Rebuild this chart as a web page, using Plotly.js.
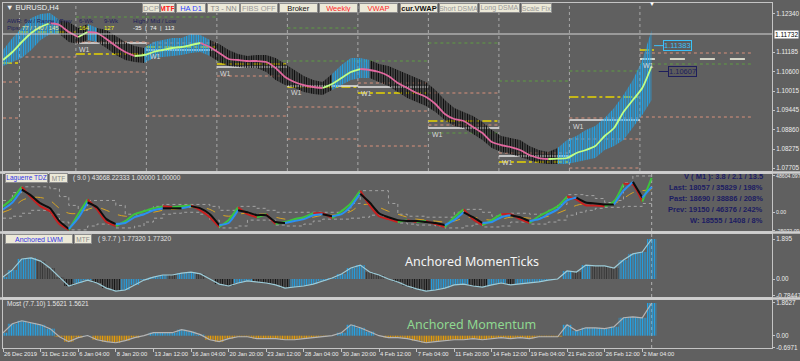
<!DOCTYPE html>
<html><head><meta charset="utf-8">
<script src="https://cdn.plot.ly/plotly-3.0.1.min.js"></script>
<style>html,body{margin:0;padding:0;background:#606060;}#chart{width:800px;height:361px;}</style>
</head><body><div id="chart"></div>
<script>
// ---------------- DATA ----------------
const barIdx = [0,4,8,12,16,20,24,28,32,36,40,44,48,52,56,60,64,68,72,76,80,84,88,92,96,100,104,108,112,116,120,124,128,132,136,140,144,148,152,156,160,164,168,172,176,180,184,188,192,196,200,204,208,212,216,220,224,228,232,236,240,244,248,252,256,260,264,268,272,276];
const tickIdx = [0,16,32,48,64,80,96,112,128,144,160,176,192,208,224,240,256,272];
const tickText = ['26 Dec 2019','31 Dec 12:00','6 Jan 04:00','8 Jan 20:00','13 Jan 12:00','16 Jan 04:00','20 Jan 20:00','23 Jan 12:00','28 Jan 04:00','30 Jan 20:00','4 Feb 12:00','7 Feb 04:00','11 Feb 20:00','14 Feb 12:00','19 Feb 04:00','21 Feb 20:00','26 Feb 12:00','2 Mar 04:00'];

// main panel: smoothed MA and candle high/low envelope (EURUSD H4)
const maLine = [1.10952,1.11192,1.11492,1.11762,1.11942,1.12062,1.12002,1.11792,1.11642,1.11792,
1.11762,1.11582,1.11372,1.11192,1.11072,1.11102,1.11192,1.11252,1.11312,1.11342,
1.11402,1.11462,1.11342,1.11162,1.10982,1.10952,1.10922,1.10922,1.10892,1.10712,
1.10442,1.10292,1.10202,1.10142,1.10112,1.10232,1.10412,1.10592,1.10682,1.10652,
1.10592,1.10472,1.10262,1.10112,1.09962,1.09842,1.09632,1.09332,1.09182,1.09122,
1.08942,1.08762,1.08492,1.08402,1.08342,1.08252,1.08102,1.08012,1.07982,1.07992,
1.08012,1.08162,1.08252,1.08372,1.08672,1.08912,1.09392,1.09752,1.10112,1.10772];
const priceHigh = [1.11252,1.11612,1.11912,1.12212,1.12332,1.12362,1.12152,1.12092,1.11912,1.12032,
1.11912,1.11852,1.11672,1.11492,1.11372,1.11312,1.11492,1.11552,1.11612,1.11612,
1.11732,1.11702,1.11552,1.11432,1.11252,1.11132,1.11072,1.11102,1.11102,1.11012,
1.10832,1.10652,1.10472,1.10352,1.10292,1.10532,1.10802,1.11012,1.11012,1.10952,
1.10832,1.10772,1.10652,1.10532,1.10412,1.10292,1.10052,1.09752,1.09512,1.09392,
1.09272,1.09092,1.08852,1.08672,1.08612,1.08552,1.08372,1.08252,1.08192,1.08312,
1.08552,1.08672,1.08852,1.08972,1.09212,1.09512,1.09902,1.10352,1.10952,1.11852];
const priceLow = [1.10772,1.10892,1.11012,1.11252,1.11552,1.11732,1.11732,1.11492,1.11432,1.11552,
1.11492,1.11312,1.11102,1.10952,1.10892,1.10862,1.11012,1.11042,1.11072,1.11102,
1.11162,1.11192,1.11072,1.10892,1.10772,1.10742,1.10712,1.10712,1.10592,1.10352,
1.10202,1.10112,1.09992,1.09932,1.09902,1.10052,1.10202,1.10352,1.10412,1.10412,
1.10292,1.10172,1.09992,1.09812,1.09692,1.09572,1.09392,1.09152,1.08972,1.08912,
1.08732,1.08552,1.08312,1.08192,1.08132,1.08042,1.07952,1.07862,1.07832,1.07832,
1.07832,1.07892,1.07952,1.08012,1.08252,1.08372,1.08552,1.08912,1.09302,1.09752];
const priceTicks = [1.12340,1.11185,1.10600,1.10015,1.09445,1.08860,1.08275,1.07705];
const lastPrice = 1.11732;
const tagPrice = [1.11383, 1.10607];

// weekly pivot levels
const weekStart = [0,7,31,61,91,121,151,181,211,241,271];
const weekEnd   = [7,31,61,91,121,151,181,211,241,271,319];
const lvlWeek  = [0,0,0, 1,1,1, 2,2,2,2,2, 3,3,3,3,3, 4,4,4,4,4, 5,5,5,5,5,5, 6,6,6,6,6,6, 7,7,7,7,7,7, 8,8,8,8, 9,9,9,9,9,9, 10,10,10,10,10];
const lvlPrice = [1.10862,1.10292,1.09212, 1.11042,1.09842,1.11792,
 1.11462,1.11492,1.11132,1.10592,1.12242, 1.11342,1.11252,1.11462,1.09272,1.12242,
 1.10832,1.10742,1.10472,1.10922,1.09272, 1.11912,1.10922,1.10142,1.10172,1.09542,1.08582,
 1.10142,1.10262,1.09962,1.09422,1.08372,1.10922, 1.11462,1.09962,1.09122,1.09002,1.08912,1.08762,
 1.10322,1.08162,1.08072,1.07892, 1.10622,1.09842,1.09152,1.09212,1.08582,1.07712,
 1.11252,1.11162,1.10982,1.10832,1.09242];
const lvlKind  = ['y','s','s', 's','s','y', 'w','s','y','s','g', 'y','w','s','s','g',
 'y','w','s','g','s', 'g','g','y','w','s','s', 'w','s','y','s','s','g', 'g','s','y','s','w','g',
 'g','s','w','y', 'g','y','w','s','s','s', 'y','s','W','g','s'];

// Laguerre TDZ panel
const lagFast = [7900,18400,34100,19700,7900,1300,-15800,-23600,-2600,17100,
3900,-13100,-18400,-11800,-2600,1300,5300,7900,6600,7900,
9200,2600,-6600,-19700,-10500,6600,-2600,-6600,-2600,-15800,
-13100,-9200,-6600,-1300,-1300,-7900,1300,11800,28900,9200,
-5300,-9200,-13100,-10500,-13100,-11800,-15800,-19700,-6600,3900,
-9200,-17100,-10500,-2600,-2600,-9200,-14400,-5300,1300,7900,
21000,17100,9200,9200,7900,14400,38100,36800,14400,46000];
const lagMain = [3900,13100,30200,22300,11800,5300,-11800,-22300,-7900,13100,
6600,-9200,-15800,-14400,-6600,-2600,2600,5300,5300,5300,
7900,5300,-2600,-17100,-14400,2600,0,-3900,-3900,-13100,
-14400,-11800,-9200,-3900,-2600,-5300,-2600,7900,24900,13100,
-1300,-6600,-10500,-11800,-11800,-13100,-14400,-17100,-10500,0,
-6600,-14400,-13100,-6600,-3900,-6600,-11800,-9200,-2600,3900,
15800,19700,13100,11800,10500,10500,28900,40700,19700,34100];
const lagSignal = [0,5300,15800,19700,19700,15800,5300,-1300,-1300,3900,
6600,2600,-2600,-5300,-5300,-2600,0,2600,3900,5300,
6600,6600,3900,-2600,-5300,-2600,-1300,-2600,-2600,-6600,
-9200,-9200,-7900,-6600,-3900,-3900,-2600,1300,9200,10500,
6600,1300,-2600,-6600,-9200,-10500,-11800,-13100,-11800,-7900,
-6600,-9200,-10500,-9200,-6600,-6600,-7900,-7900,-5300,-1300,
3900,9200,11800,11800,11800,11800,18400,26300,28900,30200];
const lagUpper = [15800,26300,34100,34100,34100,31500,21000,9200,2600,15800,
15800,15800,9200,-2600,-2600,2600,7900,10500,10500,10500,
10500,10500,7900,2600,2600,7900,7900,5300,2600,0,
0,0,0,0,0,0,2600,11800,28900,28900,
28900,11800,-2600,-5300,-5300,-6600,-6600,-6600,0,3900,
3900,0,-5300,-2600,-1300,-1300,-2600,-2600,2600,10500,
23600,23600,22300,18400,13100,15800,39400,48600,48600,48600];
const lagLower = [-7900,-5300,-1300,2600,2600,-2600,-13100,-23600,-23600,-18400,
-15800,-15800,-21000,-21000,-18400,-13100,-7900,-2600,-1300,0,
0,-2600,-10500,-21000,-21000,-18400,-10500,-10500,-10500,-17100,
-18400,-18400,-15800,-11800,-9200,-9200,-9200,-7900,-6600,-3900,
-5300,-10500,-14400,-15800,-17100,-17100,-18400,-21000,-21000,-18400,
-15800,-19700,-19700,-18400,-13100,-13100,-15800,-15800,-13100,-10500,
-3900,0,2600,5300,6600,6600,7900,7900,11800,13100];

// Anchored MomenTicks panel
const momTicks = [0.09,0.43,0.95,1.00,0.85,0.52,0.09,-0.33,-0.19,-0.05,
-0.19,-0.43,-0.57,-0.52,-0.28,-0.05,0.09,0.19,0.19,0.28,
0.33,0.24,0.00,-0.24,-0.33,-0.19,-0.09,-0.14,-0.19,-0.28,
-0.43,-0.38,-0.33,-0.24,-0.09,0.05,0.24,0.52,0.66,0.33,
0.19,0.00,-0.14,-0.33,-0.47,-0.57,-0.52,-0.43,-0.28,-0.24,
-0.33,-0.38,-0.28,-0.19,-0.28,-0.24,-0.19,-0.14,-0.05,0.00,
0.38,0.33,0.66,0.62,0.62,0.52,0.90,1.19,1.28,1.895];

// Anchored Momentum panel
const momentum = [0.17,0.68,0.85,0.73,0.62,0.40,-0.06,-0.34,-0.11,0.01,
-0.23,-0.34,-0.40,-0.28,-0.11,0.00,0.17,0.17,0.17,0.34,
0.23,0.06,-0.23,-0.34,-0.17,-0.06,-0.06,-0.17,-0.17,-0.17,
-0.23,-0.23,-0.17,-0.11,-0.06,0.00,0.17,0.62,0.45,0.23,
0.00,-0.11,-0.11,-0.17,-0.28,-0.40,-0.34,-0.28,-0.23,-0.23,
-0.17,-0.23,-0.17,-0.11,-0.17,-0.11,-0.17,-0.06,-0.06,-0.06,
0.62,0.28,0.45,0.45,0.40,0.51,1.02,1.07,1.02,1.86];

// ---------------- DRAWING ----------------
const F = 'Liberation Sans, Arial, sans-serif';
const traces = [];

function dirSegments(xs, ys, upC, dnC, w, xa, ya, shape) {
  const out = []; let start = 0;
  const dir = i => ys[i+1] > ys[i];
  for (let i = 0; i < xs.length - 1; i++) {
    if (i === xs.length - 2 || dir(i+1) !== dir(i)) {
      out.push({type:'scatter', mode:'lines', x: xs.slice(start, i+2), y: ys.slice(start, i+2),
        line:{color: dir(i) ? upC : dnC, width: w, shape: shape || 'linear', smoothing: 0.6},
        xaxis: xa, yaxis: ya, hoverinfo:'skip'});
      start = i + 1;
    }
  }
  return out;
}

// candle envelope (main) – hatched fill between low and high, coloured by trend
const candleColors = maLine.map((v,i) => (i === 0 ? maLine[1] > v : v > maLine[i-1]) ? '#1ea6ee' : '#080808');
(function(){
  const n = barIdx.length; let a = 0;
  for (let i = 1; i <= n; i++) {
    if (i === n || candleColors[i] !== candleColors[a]) {
      const b = Math.min(i, n - 1) + 1;
      const col = candleColors[a];
      traces.push({type:'scatter', mode:'lines', x: barIdx.slice(a, b), y: priceLow.slice(a, b), line:{width:0, color:col, shape:'linear'}, xaxis:'x2', yaxis:'y', hoverinfo:'skip'});
      traces.push({type:'scatter', mode:'lines', x: barIdx.slice(a, b), y: priceHigh.slice(a, b), line:{width:0, color:col, shape:'linear'}, fill:'tonexty',
        fillcolor:'rgba(0,0,0,0)', fillpattern:{shape:'|', fgcolor:col, bgcolor:'rgba(0,0,0,0)', size:2.4, solidity:0.55}, xaxis:'x2', yaxis:'y', hoverinfo:'skip'});
      a = i;
    }
  }
})();
traces.push(...dirSegments(barIdx, maLine, '#bfff86', '#e2689f', 1.8, 'x2', 'y', 'spline'));

// Laguerre
traces.push({type:'scatter', mode:'lines', x: barIdx, y: lagUpper, line:{color:'#a4a4a4', width:1, dash:'dot', shape:'hv'}, xaxis:'x3', yaxis:'y2', hoverinfo:'skip'});
traces.push({type:'scatter', mode:'lines', x: barIdx, y: lagLower, line:{color:'#a4a4a4', width:1, dash:'dot', shape:'hv'}, xaxis:'x3', yaxis:'y2', hoverinfo:'skip'});
traces.push({type:'scatter', mode:'lines', x: barIdx, y: lagSignal, line:{color:'#d8a422', width:1, dash:'dash', shape:'spline'}, xaxis:'x3', yaxis:'y2', hoverinfo:'skip'});
traces.push(...dirSegments(barIdx, lagFast, '#3cc43c', '#c82020', 2, 'x3', 'y2', 'spline'));
traces.push(...dirSegments(barIdx, lagMain, '#2b90f2', '#0e0e0e', 2, 'x3', 'y2', 'spline'));

// MomenTicks
const mtColors = momTicks.map((v,i) => (i > 0 && v > momTicks[i-1]) || i === 0 ? '#1ea2ea' : (v >= 0 ? '#353535' : '#101010'));
traces.push({type:'bar', x: barIdx, y: momTicks, width: 4, xaxis:'x4', yaxis:'y3',
  marker:{color: mtColors, line:{width:0}, pattern:{shape:'|', size:2.4, solidity:0.5}}, hoverinfo:'skip'});
traces.push({type:'scatter', mode:'lines', x: barIdx, y: momTicks, line:{color:'#9ccbd8', width:1.2}, xaxis:'x4', yaxis:'y3', hoverinfo:'skip'});

// Momentum
const mColors = momentum.map(v => v >= 0 ? '#1fa8f0' : '#f2a200');
traces.push({type:'bar', x: barIdx, y: momentum, width: 4, xaxis:'x', yaxis:'y4',
  marker:{color: mColors, line:{width:0}, pattern:{shape:'|', size:2.4, solidity:0.55}}, hoverinfo:'skip'});
traces.push({type:'scatter', mode:'lines', x: barIdx, y: momentum, line:{color:'#b4b4b4', width:1.2}, xaxis:'x', yaxis:'y4', hoverinfo:'skip'});

// ---------------- LAYOUT ----------------
const pa = px => (px - 3) / 769;
const pb = py => (348 - py) / 345;
const shapes = [];
const annotations = [];

// separators between panels
[172.5, 232.5, 298.5].forEach(py => shapes.push({type:'rect', xref:'paper', yref:'paper', x0:-0.01, x1:1.05, y0:pb(py+1.2), y1:pb(py-1.2), fillcolor:'#cfcfcf', line:{width:0}, layer:'above'}));

// week separators
weekStart.slice(1).forEach(w => shapes.push({type:'line', xref:'x2', yref:'y domain', x0:w, x1:w, y0:0, y1:1, line:{color:'#a8a8a8', width:1, dash:'dot'}, layer:'below'}));
// current bar markers in sub-windows
const lastBar = barIdx[barIdx.length-1];
[['x3','y2'],['x4','y3'],['x','y4']].forEach(([xa,ya]) => shapes.push({type:'line', xref:xa, yref:ya+' domain', x0:lastBar, x1:lastBar, y0:0, y1:1, line:{color:'#b0b0b0', width:1, dash:'dot'}, layer:'below'}));

// levels
const lvlStyle = {
  s:{color:'#d8907a', width:1, dash:'dot'},
  g:{color:'#5e9c42', width:1, dash:'dot'},
  y:{color:'#e6d400', width:1.5, dash:'dashdot'},
  w:{color:'#e6e6e6', width:1.5, dash:'solid'},
  W:{color:'#d6d6c8', width:2, dash:'longdash'}
};
lvlPrice.forEach((p,k) => {
  const w = lvlWeek[k], kind = lvlKind[k];
  let x1 = weekEnd[w];
  if (kind === 'y' && w === weekStart.length - 1) x1 = weekStart[w] + 6;
  shapes.push({type:'line', xref:'x2', yref:'y', x0:weekStart[w], x1:x1, y0:p, y1:p, line:lvlStyle[kind], layer:'below'});
  if (kind === 'w' || kind === 'W') {
    annotations.push({xref:'x2', yref:'y', x:weekStart[w] + 0.6, y:p, text:'W1', showarrow:false, xanchor:'left', yanchor:'top', yshift:-1, font:{family:F, size:7, color:'#d8d8d8'}});
  }
});
// last price line
shapes.push({type:'line', xref:'paper', yref:'y', x0:0, x1:1, y0:lastPrice, y1:lastPrice, line:{color:'#d4d4d4', width:1}, layer:'above'});
annotations.push({xref:'paper', yref:'y', x:1.002, y:lastPrice, text:lastPrice.toFixed(5), showarrow:false, xanchor:'left', yanchor:'middle', bgcolor:'#ffffff', borderpad:0, font:{family:F, size:6.5, color:'#000000'}});

// price tags
const tagColor = ['#3cc0f8', '#1e1e5c'];
tagPrice.forEach((p,k) => {
  const x0 = lastBar + 1 + k*2;
  shapes.push({type:'line', xref:'x2', yref:'y', x0:x0, x1:x0+4, y0:p, y1:p, line:{color:tagColor[k], width:1}});
  annotations.push({xref:'x2', yref:'y', x:x0+4, y:p, text:p.toFixed(5), showarrow:false, xanchor:'left', yanchor:'middle', bgcolor:'#5c5c5c', bordercolor:tagColor[k], borderwidth:1, borderpad:0, font:{family:F, size:7.5, color:tagColor[k]}});
});

function txt(px, py, text, color, size, extra) {
  annotations.push(Object.assign({xref:'paper', yref:'paper', x:pa(px), y:pb(py), text:text, showarrow:false, xanchor:'left', yanchor:'middle', font:{family:F, size:size, color:color}}, extra || {}));
}
function box(x0, x1, py, text, color, bold, size) {
  annotations.push({xref:'paper', yref:'paper', x:pa((x0+x1)/2), y:pb(py), text: bold ? '<b>'+text+'</b>' : text, showarrow:false, xanchor:'center', yanchor:'middle', width:x1-x0-2, height:8, bgcolor:'#ece9d8', bordercolor:'#8e8e8e', borderwidth:1, borderpad:0, font:{family:F, size:size || 7.5, color:color}});
}

// header
txt(4, 7, '\u25BC EURUSD,H4', '#f2f2f2', 7.5);
txt(5, 21, 'AWR: 6w / Range / Prev', '#1e1e5c', 6);
txt(77, 21, '6-Wk', '#1e1e5c', 6);
txt(102, 21, '9-Wk', '#1e1e5c', 6);
txt(131, 21, 'High / Mid / Low', '#1e1e5c', 6);
txt(5, 28, 'Pips:', '#1e1e5c', 6);
txt(20, 28, '77 / 140 / 145', '#e6ea9a', 6);
txt(77, 28, '164', '#f2f01e', 6);
txt(102, 28, '127', '#f2f01e', 6);
txt(131, 28, '-35  |  74  |  113', '#f2f2f2', 6);
txt(652, 4, '\u25BC', '#ffffff', 6, {xanchor:'center'});

// buttons
box(142,160,8.5,'DCP','#9a9a9a');
box(160,175,8.5,'MTF','#ff2020',true);
box(176,206,8.5,'HA D1','#2c44ff');
box(207,240,8.5,'T3 - NN','#8a8a8a');
box(240,278,8.5,'FIBS OFF','#9a9a9a');
box(279,318,8.5,'Broker','#111111');
box(319,358,8.5,'Weekly','#ff2a2a');
box(359,398,8.5,'VWAP','#ff2a2a');
box(400,438,8.5,'cur.VWAP','#111111',true);
box(439,478,8.5,'Short DSMA','#9a9a9a',false,7);
box(479,520,8.5,'Long DSMA','#9a9a9a',false,7);
box(521,552,8.5,'Scale Fix','#9a9a9a',false,7);

// sub-window labels
box(5,48,177.5,'Laguerre TDZ','#3434e6',false,6.5);
box(49,68,177.5,'MTF','#8a8a8a',false,6.5);
txt(71, 177.5, '( 9.0 ) 43668.22333 1.00000 1.00000', '#e4e4e4', 6.5);
box(5,73,239,'Anchored LWM','#3434e6',false,7);
box(74,92,239,'MTF','#8a8a8a',false,6.5);
txt(96, 239, '( 9.7.7 ) 1.77320 1.77320', '#e4e4e4', 6.5);
txt(5, 303.5, 'Most (7.7.10) 1.5621 1.5621', '#e4e4e4', 6.5);

// info block in Laguerre window
['V ( M1 ): 3.8 / 2.1 / 13.5','Last: 18057 / 35829 / 198%','Past: 18690 / 38886 / 208%','Prev: 19150 / 46376 / 242%','W: 18555 / 1408 / 8%']
  .forEach((t,k) => txt(765, 176.5 + k*11, '<b>'+t+'</b>', '#1c1c62', 7.5, {xanchor:'right'}));

// big captions
txt(403, 261, 'Anchored MomenTicks', '#f4f4f4', 12.5, {font:{family:'Noto Sans, Open Sans, sans-serif', size:12.5, color:'#f4f4f4'}});
txt(405, 324.5, 'Anchored Momentum', '#8fd890', 12.5, {font:{family:'Noto Sans, Open Sans, sans-serif', size:12.5, color:'#8fd890'}});

const xcommon = {range:[0,327.2], showgrid:false, zeroline:false, showline:true, mirror:true, linecolor:'#c4c4c4', linewidth:1, fixedrange:true};
const ycommon = {side:'right', showgrid:false, zeroline:false, showline:true, mirror:true, linecolor:'#c4c4c4', linewidth:1,
  ticks:'outside', ticklen:2, tickcolor:'#c4c4c4', tickfont:{family:F, size:6.3, color:'#ececec'}, fixedrange:true};

const layout = {
  width:800, height:361,
  margin:{l:3, r:28, t:3, b:13},
  paper_bgcolor:'#606060', plot_bgcolor:'#606060',
  showlegend:false, barmode:'overlay',
  font:{family:F, color:'#ececec'},
  xaxis: Object.assign({}, xcommon, {anchor:'y4', tickvals:tickIdx, ticktext:tickText, ticks:'outside', ticklen:3, tickcolor:'#c4c4c4',
    tickangle:0, tickfont:{family:F, size:5.8, color:'#ececec'}, ticklabelposition:'outside right', ticklabeloverflow:'allow'}),
  xaxis2: Object.assign({}, xcommon, {anchor:'y', showticklabels:false}),
  xaxis3: Object.assign({}, xcommon, {anchor:'y2', showticklabels:false}),
  xaxis4: Object.assign({}, xcommon, {anchor:'y3', showticklabels:false}),
  yaxis: Object.assign({}, ycommon, {anchor:'x2', domain:[0.513,1], range:[1.07622,1.12662], tickvals:priceTicks, ticktext:priceTicks.map(v => v.toFixed(5))}),
  yaxis2: Object.assign({}, ycommon, {anchor:'x3', domain:[0.3391,0.5043], range:[-25100,51230], tickvals:[48604.097,0,-25032.09], ticktext:['48604.097','0.00','-25032.09'],
    tickfont:{family:F, size:5.2, color:'#ececec'}}),
  yaxis3: Object.assign({}, ycommon, {anchor:'x4', domain:[0.1478,0.3304], range:[-0.853,2.132], tickvals:[1.895,0,-0.78447], ticktext:['1.895','0.00','-0.78447']}),
  yaxis4: Object.assign({}, ycommon, {anchor:'x', domain:[0,0.1391], range:[-0.70,2.03], tickvals:[1.8627,0,-0.6971], ticktext:['1.8627','0.00','-0.6971']}),
  shapes: shapes,
  annotations: annotations
};

Plotly.newPlot('chart', traces, layout, {displayModeBar:false, staticPlot:true});
</script></body></html>
